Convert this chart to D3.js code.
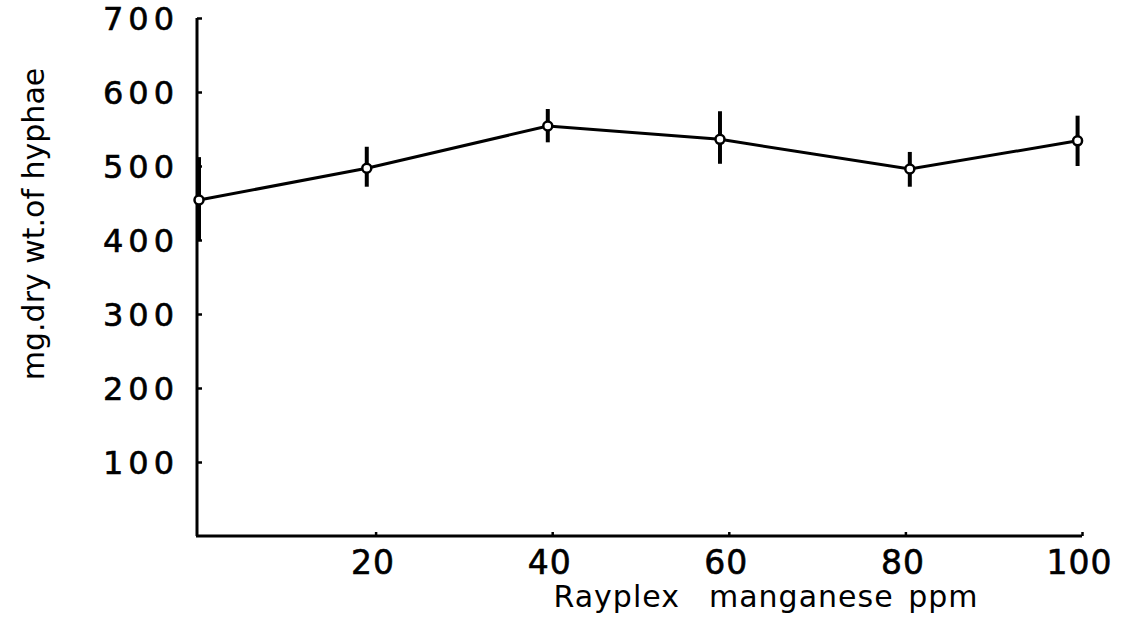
<!DOCTYPE html>
<html>
<head>
<meta charset="utf-8">
<script src="https://cdn.jsdelivr.net/npm/d3@7"></script>
<style>
  body { margin: 0; background: #fff; }
  svg { display: block; }
  .tick-label { font-family: "DejaVu Sans", sans-serif; fill: #000; stroke: #000; stroke-width: 0.6px; }
</style>
</head>
<body>
<svg id="chart"></svg>
<script>
// manganese level (ppm) and dry weight (mg)
const manganese = [0, 19, 39.5, 59, 80.5, 99.5];
const dryWeight = [454, 497, 554, 536, 496, 534];
const errLow = [400, 472, 532, 503, 472, 500];
const errHigh = [512, 526, 577, 574, 519, 568];

const xTicks = [20, 40, 60, 80, 100];
const yTicks = [100, 200, 300, 400, 500, 600, 700];

const width = 1126, height = 630;

const svg = d3.select("#chart")
    .attr("width", width)
    .attr("height", height);

const x = d3.scaleLinear().domain([0, 100]).range([199, 1082]);
const y = d3.scaleLinear().domain([0, 700]).range([536, 18]);

// y axis: ticks point inward, big spaced numbers
const yAxis = svg.append("g")
    .attr("transform", `translate(${x(0) - 2},0)`)
    .call(d3.axisRight(y).tickValues(yTicks).tickSize(5).tickFormat(d => d));
yAxis.select(".domain").attr("d", `M0,${y(700)}V${y(0)}`).attr("stroke-width", 3);
yAxis.selectAll(".tick line").attr("stroke-width", 2.5);
yAxis.selectAll(".tick text")
    .attr("class", "tick-label")
    .attr("x", -18)
    .attr("text-anchor", "end")
    .style("font-size", "32px")
    .style("letter-spacing", "5px")
    .attr("dy", "0.36em");

// x axis: ticks point up
const xAxis = svg.append("g")
    .attr("transform", `translate(0,${y(0)})`)
    .call(d3.axisBottom(x).tickValues(xTicks).tickSize(-4).tickFormat(d => d));
xAxis.select(".domain").attr("d", `M${x(0) - 3},0H${x(100)}`).attr("stroke-width", 3);
xAxis.selectAll(".tick line").attr("stroke-width", 2.5);
xAxis.selectAll(".tick text")
    .attr("class", "tick-label")
    .attr("x", -3)
    .attr("y", 38)
    .attr("dy", 0)
    .style("font-size", "33px")
    .style("letter-spacing", "1px");

// axis titles
svg.append("text")
    .attr("x", 766)
    .attr("y", 607)
    .attr("text-anchor", "middle")
    .style("font-family", "DejaVu Sans, sans-serif")
    .style("font-size", "30px")
    .style("letter-spacing", "1px")
    .style("word-spacing", "4px")
    .style("white-space", "pre")
    .text("Rayplex  manganese ppm");

svg.append("text")
    .attr("transform", "translate(44,224) rotate(-90)")
    .attr("text-anchor", "middle")
    .style("font-family", "DejaVu Sans, sans-serif")
    .style("font-size", "30px")
    .text("mg.dry wt.of hyphae");

const data = manganese.map((m, i) => ({
  m: m, w: dryWeight[i], lo: errLow[i], hi: errHigh[i]
}));

// error bars
svg.selectAll(".err")
    .data(data)
    .enter().append("line")
    .attr("class", "err")
    .attr("x1", d => x(d.m))
    .attr("x2", d => x(d.m))
    .attr("y1", d => y(d.hi))
    .attr("y2", d => y(d.lo))
    .attr("stroke", "#000")
    .attr("stroke-width", 4);

// mean line
const line = d3.line()
    .x(d => x(d.m))
    .y(d => y(d.w));

svg.append("path")
    .datum(data)
    .attr("d", line)
    .attr("fill", "none")
    .attr("stroke", "#000")
    .attr("stroke-width", 3);

// open markers
svg.selectAll(".pt")
    .data(data)
    .enter().append("circle")
    .attr("class", "pt")
    .attr("cx", d => x(d.m))
    .attr("cy", d => y(d.w))
    .attr("r", 4.5)
    .attr("fill", "#fff")
    .attr("stroke", "#000")
    .attr("stroke-width", 2.5);
</script>
</body>
</html>
